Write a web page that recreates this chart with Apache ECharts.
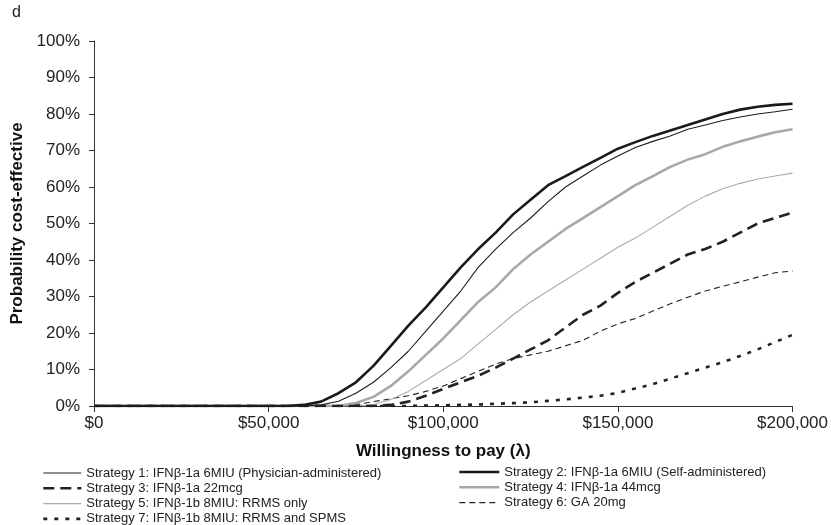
<!DOCTYPE html>
<html>
<head>
<meta charset="utf-8">
<script src="https://cdn.jsdelivr.net/npm/echarts@6/dist/echarts.min.js"></script>
<style>
  html, body { margin: 0; padding: 0; background: #fff; }
  #chart { width: 831px; height: 525px; }
</style>
</head>
<body>
<div id="chart"></div>
<script>
// Willingness-to-pay thresholds (x values, $) at which each curve is sampled
const wtp = [
  0, 5000, 10000, 15000, 20000, 25000, 30000, 35000, 40000, 45000,
  50000, 55000, 60000, 65000, 70000, 75000, 80000, 85000, 90000, 95000,
  100000, 105000, 110000, 115000, 120000, 125000, 130000, 135000, 140000, 145000,
  150000, 155000, 160000, 165000, 170000, 175000, 180000, 185000, 190000, 195000,
  200000
];

// Probability cost-effective (%) for each strategy
const s1 = [0,0,0,0,0,0,0,0,0,0, 0,0,0,0.3,1.3,3.5,6.5,10.5,15,20.5,
  26,31.5,38,43,47.5,51.5,56,60,63,66, 68.5,70.8,72.5,74,75.8,77,78.2,79.2,80,80.6, 81.3];
const s2 = [0,0,0,0,0,0,0,0,0,0, 0,0,0.3,1.2,3.5,6.5,11,16.5,22,27,
  32.5,38,43,47.5,52.5,56.5,60.5,63,65.5,68, 70.5,72.3,74,75.5,77,78.5,80,81.2,82,82.5, 82.8];
const s3 = [0,0,0,0,0,0,0,0,0,0, 0,0,0,0,0,0,0,0.3,1.2,2.8,
  4.7,6.5,8.3,10.5,13,15.5,18,21.5,25,27.5, 31,34,36.5,39,41.5,43,45,47.5,50,51.5, 53];
const s4 = [0,0,0,0,0,0,0,0,0,0, 0,0,0,0,0,0.8,2.5,5.5,9.5,14,
  18.5,23.5,28.5,32.5,37.5,41.5,45,48.5,51.5,54.5, 57.5,60.5,63,65.5,67.5,69,71,72.5,73.8,75, 75.8];
const s5 = [0,0,0,0,0,0,0,0,0,0, 0,0,0,0,0,0,0.4,1.8,4,7,
  10,13,17,21,25,28.5,31.5,34.5,37.5,40.5, 43.5,46,49,52,55,57.5,59.5,61,62.2,63, 63.8];
const s6 = [0,0,0,0,0,0,0,0,0,0, 0,0,0,0,0,0.4,1.2,2,2.8,4,
  5.5,7.5,9.5,11.5,13,14,15,16.5,18,20.5, 22.5,24,26,28,29.8,31.5,32.8,34,35.3,36.5, 37];
const s7 = [0,0,0,0,0,0,0,0,0,0, 0,0,0,0,0,0,0,0,0,0.1,
  0.2,0.3,0.4,0.6,0.8,1,1.4,1.8,2.3,2.8, 3.6,4.8,6,7.5,9,10.5,12,13.7,15.5,17.5, 19.5];

const names = [
  'Strategy 1: IFNβ-1a 6MIU (Physician-administered)',
  'Strategy 2: IFNβ-1a 6MIU (Self-administered)',
  'Strategy 3: IFNβ-1a 22mcg',
  'Strategy 4: IFNβ-1a 44mcg',
  'Strategy 5: IFNβ-1b 8MIU: RRMS only',
  'Strategy 6: GA 20mg',
  'Strategy 7: IFNβ-1b 8MIU: RRMS and SPMS'
];

const FONT = 'Liberation Sans, Arial, Helvetica, sans-serif';

const pair = (ys) => wtp.map((x, i) => [x, ys[i]]);

const styles = [
  { color: '#1e1e1e', width: 1.1, type: 'solid' },
  { color: '#1a1a1a', width: 2.6, type: 'solid' },
  { color: '#222222', width: 2.6, type: [11, 6] },
  { color: '#a8a8a8', width: 2.6, type: 'solid' },
  { color: '#ababab', width: 1.1, type: 'solid' },
  { color: '#222222', width: 1.1, type: [6, 4] },
  { color: '#222222', width: 2.6, type: [4, 7] }
];

const values = [s1, s2, s3, s4, s5, s6, s7];

const series = values.map((ys, i) => ({
  name: names[i],
  type: 'line',
  data: pair(ys),
  symbol: 'none',
  showSymbol: false,
  smooth: false,
  color: styles[i].color,
  lineStyle: { color: styles[i].color, width: styles[i].width, type: styles[i].type },
  z: 10 - i
}));

// legend entries carry the same stroke as their series
const legendItem = (i) => ({
  name: names[i],
  lineStyle: { color: styles[i].color, width: styles[i].width, type: styles[i].type },
  itemStyle: { opacity: 0 }
});

const legendCommon = {
  orient: 'vertical',
  itemWidth: 38,
  itemHeight: 14,
  itemGap: 1.3,
  padding: 0,
  height: 80,
  selectedMode: false,
  itemStyle: { opacity: 0 },
  textStyle: { fontFamily: FONT, fontSize: 13, color: '#222', lineHeight: 14 }
};

const chart = echarts.init(document.getElementById('chart'), null, { renderer: 'canvas' });
chart.setOption({
  animation: false,
  backgroundColor: '#ffffff',
  grid: { left: 94, right: 36, top: 41, bottom: 119, containLabel: false },
  graphic: [{
    type: 'text', left: 12, top: 5,
    style: { text: 'd', font: '16px ' + FONT, fill: '#222' }
  }],
  legend: [
    Object.assign({}, legendCommon, { left: 42, top: 466, data: [0, 2, 4, 6].map(legendItem) }),
    Object.assign({}, legendCommon, { left: 458, itemWidth: 40, top: 465, data: [1, 3, 5].map(legendItem) })
  ],
  xAxis: {
    type: 'value',
    min: 0, max: 200000, interval: 50000,
    name: 'Willingness to pay (λ)',
    nameLocation: 'middle',
    nameGap: 37,
    nameTextStyle: { fontFamily: FONT, fontSize: 17, fontWeight: 'bold', color: '#111' },
    axisLine: { show: true, lineStyle: { color: '#333', width: 1 } },
    axisTick: { show: true, inside: false, length: 6, lineStyle: { color: '#333' } },
    axisLabel: {
      margin: 9, fontFamily: FONT, fontSize: 17, color: '#222',
      formatter: (v) => '$' + v.toLocaleString('en-US')
    },
    splitLine: { show: false }
  },
  yAxis: {
    type: 'value',
    min: 0, max: 100, interval: 10,
    name: 'Probability cost-effective',
    nameLocation: 'middle',
    nameGap: 68,
    nameTextStyle: { fontFamily: FONT, fontSize: 17, fontWeight: 'bold', color: '#111' },
    axisLine: { show: true, lineStyle: { color: '#333', width: 1 } },
    axisTick: { show: true, inside: false, length: 5, lineStyle: { color: '#333' } },
    axisLabel: {
      margin: 14, fontFamily: FONT, fontSize: 17, color: '#222',
      formatter: '{value}%'
    },
    splitLine: { show: false }
  },
  series: series
});
</script>
</body>
</html>
